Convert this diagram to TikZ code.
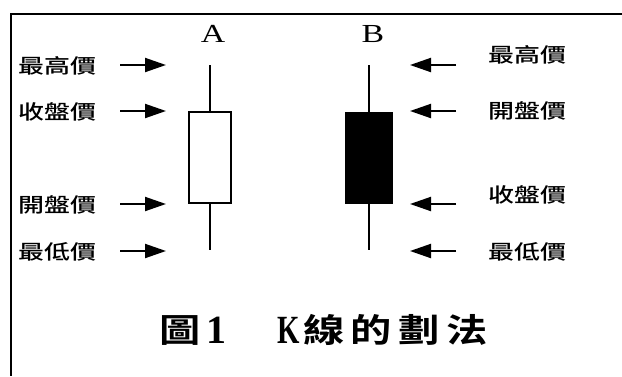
\documentclass[tikz,border=0pt]{standalone}
\usepackage{fontspec}
\setmainfont{Liberation Serif}
\newfontfamily\cjk{Noto Sans CJK TC Medium}
\newfontfamily\cjkb{Noto Sans CJK TC Bold}
\usetikzlibrary{arrows.meta}
\begin{document}
\begin{tikzpicture}[x=1pt,y=-1pt,
  lbl/.style={inner sep=0pt,font=\cjk\fontsize{20}{20}\selectfont,xscale=1.3,transform shape},
  letter/.style={inner sep=0pt,font=\fontsize{26}{26}\selectfont,xscale=1.3,transform shape},
  ttl/.style={inner sep=0pt,font=\cjkb\fontsize{33}{33}\selectfont,xscale=1.25,transform shape},
  ttlr/.style={inner sep=0pt,font=\bfseries\fontsize{40}{40}\selectfont,transform shape},
  arr/.style={line width=2pt,-{Triangle[length=21pt,width=14pt]}},
  wick/.style={line width=1.3pt},
  frame/.style={line width=1.3pt}]
\useasboundingbox (0,0) rectangle (622,376);
% frame (top and left only)
\coordinate (ftl) at (11,14);
\coordinate (ftr) at (622,14);
\coordinate (fbl) at (11,376);
\draw[frame] (ftr) -- (ftl);
\draw[line width=2.8pt] (11,13.4) -- (fbl);
% letters
\node[letter] (A) at (213,34) {A};
\node[letter] (B) at (373,34) {B};
% candle A (hollow)
\coordinate (Ahi) at (210,65);
\coordinate (Alo) at (210,250);
\node[draw,line width=1.3pt,fill=white,minimum width=42pt,minimum height=91pt,inner sep=0pt] (Abody) at (210,157.5) {};
\draw[wick] (Ahi) -- (Abody.north);
\draw[wick] (Abody.south) -- (Alo);
% candle B (filled)
\coordinate (Bhi) at (369,65);
\coordinate (Blo) at (369,250);
\node[draw,fill=black,line width=1pt,minimum width=47pt,minimum height=91pt,inner sep=0pt] (Bbody) at (369,157.5) {};
\draw[wick,line width=2pt] (Bhi) -- (Bbody.north);
\draw[wick,line width=2pt] (Bbody.south) -- (Blo);
% left labels
\node[lbl,anchor=east] (L1) at (97,66) {最高價};
\node[lbl,anchor=east] (L2) at (97,112) {收盤價};
\node[lbl,anchor=east] (L3) at (97,205) {開盤價};
\node[lbl,anchor=east] (L4) at (97,252) {最低價};
% left arrows
\coordinate (la1) at (120,65); \coordinate (lb1) at (166,65);
\coordinate (la2) at (120,111); \coordinate (lb2) at (166,111);
\coordinate (la3) at (120,204); \coordinate (lb3) at (166,204);
\coordinate (la4) at (120,251); \coordinate (lb4) at (166,251);
\draw[arr] (la1) -- (lb1);
\draw[arr] (la2) -- (lb2);
\draw[arr] (la3) -- (lb3);
\draw[arr] (la4) -- (lb4);
% right labels
\node[lbl,anchor=west] (R1) at (488,55) {最高價};
\node[lbl,anchor=west] (R2) at (488,111) {開盤價};
\node[lbl,anchor=west] (R3) at (488,195) {收盤價};
\node[lbl,anchor=west] (R4) at (488,252) {最低價};
% right arrows
\coordinate (ra1) at (456,65); \coordinate (rb1) at (410,65);
\coordinate (ra2) at (456,111); \coordinate (rb2) at (410,111);
\coordinate (ra3) at (456,204); \coordinate (rb3) at (410,204);
\coordinate (ra4) at (456,251); \coordinate (rb4) at (410,251);
\draw[arr] (ra1) -- (rb1);
\draw[arr] (ra2) -- (rb2);
\draw[arr] (ra3) -- (rb3);
\draw[arr] (ra4) -- (rb4);
% title
\node[ttl] (T1) at (180,330) {圖};
\node[ttlr] (T2) at (216,330) {1};
\node[ttlr,xscale=0.72] (T3) at (289,330) {K};
\node[ttl] (T4) at (324,330) {線};
\node[ttl] (T5) at (371,330) {的};
\node[ttl] (T6) at (419,330) {劃};
\node[ttl] (T7) at (467,330) {法};
\end{tikzpicture}
\end{document}
